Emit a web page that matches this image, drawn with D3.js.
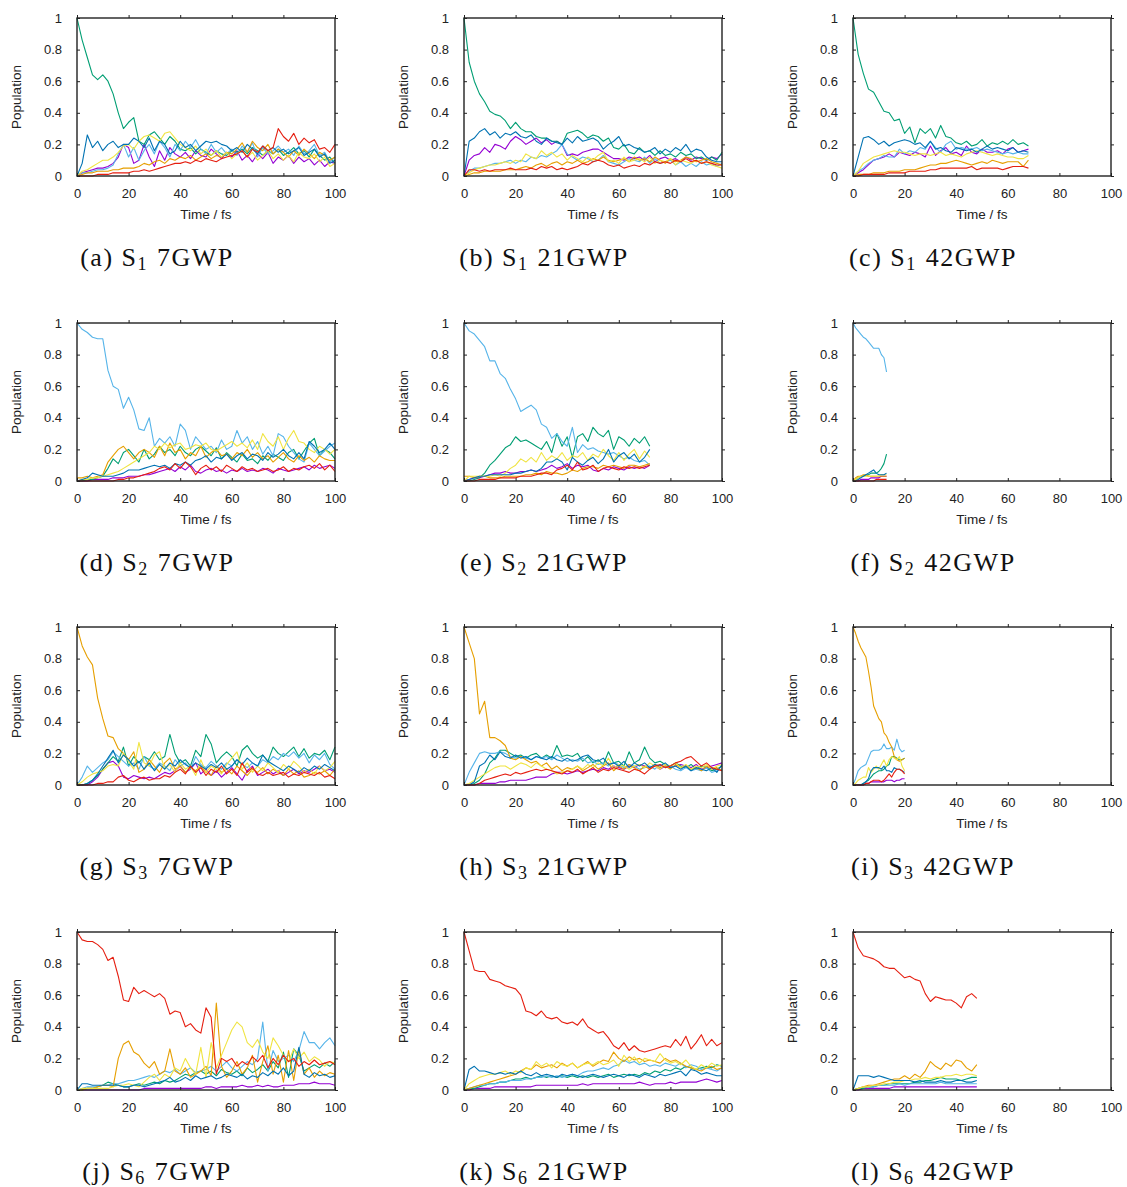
<!DOCTYPE html>
<html>
<head>
<meta charset="utf-8">
<script src="https://cdn.jsdelivr.net/npm/d3@7"></script>
<style>
  body { margin: 0; background: #fff; }
  svg text { font-family: "Liberation Sans", Arial, sans-serif; fill: #222; }
  .caption { font-family: "Liberation Serif", "Times New Roman", serif; font-size: 26px; letter-spacing: 1.5px; fill: #111; }
</style>
</head>
<body>
<svg id="svg_pop" width="1127" height="1187"></svg>
<script>
// populations in percent, one array per electronic state (S0..S6) and panel

// (a) S1 7GWP, every 2 fs
const a_S0 = [0,2,3,4,5,5,6,8,12,20, 18,8,10,20,12,6,16,10,18,14, 12,15,11,16,13,12,17,14,11,15, 12,16,10,13,9,14,11,15,8,12, 10,13,8,12,9,11,7,10,6,9, 8]
const a_S1 = [100,86,75,64,61,64,60,52,40,30, 34,37,22,20,26,28,24,20,25,22, 17,16,18,14,17,15,13,16,14,13, 16,15,17,14,18,16,13,16,14,17, 13,15,18,14,16,12,17,13,10,12, 8]
const a_S2 = [1,2,2,3,4,4,5,7,14,20, 12,18,10,16,20,14,22,18,12,20, 16,22,18,23,17,14,20,15,18,14, 17,13,19,15,21,12,18,14,16,19, 15,17,13,19,14,16,20,13,15,9, 12]
const a_S3 = [0,1,2,2,3,3,3,4,4,5, 5,5,6,8,7,9,10,8,11,10, 12,11,13,10,12,14,11,13,12,15, 14,17,21,15,22,18,16,20,14,17, 15,12,16,13,17,14,11,15,13,10, 12]
const a_S4 = [0,3,4,6,8,10,10,12,15,19, 20,17,22,25,26,24,22,27,28,24, 20,18,16,19,14,17,13,16,12,15, 11,14,16,12,15,10,13,16,11,14, 10,13,9,15,12,11,14,9,12,6, 8]
const a_S5 = [0,8,26,18,22,16,20,22,18,20, 20,24,22,18,24,16,22,20,14,16, 22,18,20,16,19,22,21,22,20,19, 16,18,15,20,17,14,19,16,18,15, 17,14,16,18,13,15,17,12,14,8, 10]
const a_S6 = [0,0,0,0,1,1,1,2,2,2, 2,3,3,4,3,4,5,6,7,8, 8,9,8,10,9,11,10,9,11,12, 13,14,16,12,17,15,19,16,18,30, 25,22,27,20,24,21,23,17,18,15, 20]

// (b) S1 21GWP
const b_S0 = [0,10,13,14,18,15,20,19,17,22, 25,23,20,22,24,21,23,20,22,20, 13,14,13,15,16,17,17,15,13,11, 11,10,12,11,12,10,13,9,11,12, 10,11,9,12,10,12,11,10,12,11, 14]
const b_S1 = [100,72,60,52,47,41,39,38,35,30, 34,30,28,28,25,24,24,22,22,20, 27,28,29,27,24,26,25,22,24,18, 17,20,15,14,18,15,16,13,16,13, 14,12,15,13,14,11,12,10,12,10, 15]
const b_S2 = [0,3,5,5,6,7,8,8,9,10, 8,10,9,12,11,13,12,14,16,20, 14,12,10,12,11,9,10,13,9,8, 7,9,11,10,9,12,8,11,8,9, 10,7,9,6,8,6,9,7,8,6, 8]
const b_S3 = [0,1,2,2,3,3,3,3,4,4, 4,5,6,5,7,8,6,8,9,7, 9,8,10,8,9,11,10,12,10,9, 10,11,9,12,10,11,9,12,10,8, 11,9,10,12,11,9,10,11,9,8, 7]
const b_S4 = [0,2,4,5,6,7,7,8,9,8, 10,9,14,12,11,16,13,15,12,14, 10,13,11,9,12,10,13,15,9,10, 8,12,9,10,11,9,12,8,10,9, 11,7,10,9,8,10,8,9,7,6, 5]
const b_S5 = [0,22,24,28,30,26,28,24,27,26, 28,25,24,26,22,20,24,22,21,20, 24,21,25,22,23,24,22,17,20,22, 25,19,20,18,17,15,16,18,14,17, 15,18,16,20,15,17,16,12,10,9, 9]
const b_S6 = [0,4,4,3,4,3,4,4,4,5, 4,4,4,5,4,6,5,6,4,5, 4,5,6,8,7,9,10,9,7,6, 7,5,6,7,6,8,7,9,8,9, 8,10,9,11,9,10,8,9,8,7, 7]

// (c) S1 42GWP, up to 68 fs
const c_S0 = [0,2,4,7,10,11,12,14,12,15, 14,13,15,14,12,19,13,16,18,14, 15,13,19,15,14,17,15,15,16,14, 17,18,15,16,17]
const c_S1 = [100,77,65,55,53,47,41,40,35,36, 27,31,21,30,27,30,24,32,25,24, 21,20,22,19,20,23,19,21,20,22, 20,23,20,21,19]
const c_S2 = [0,3,5,8,10,11,13,12,12,17, 14,16,15,18,17,22,18,15,20,22, 17,18,17,17,18,16,17,16,15,14, 15,14,15,14,14]
const c_S3 = [0,1,1,1,2,2,2,3,3,3, 4,4,4,5,6,7,7,8,8,9, 10,9,8,7,8,9,8,10,9,8, 9,9,9,6,10]
const c_S4 = [0,3,8,10,12,13,14,15,16,15, 15,14,13,14,14,13,14,15,13,14, 13,12,14,15,16,15,14,13,14,13, 12,12,11,11,13]
const c_S5 = [0,12,24,25,23,20,22,19,21,22, 23,22,20,21,18,22,17,18,16,15, 18,17,16,17,15,17,19,17,18,17, 16,18,15,16,15]
const c_S6 = [0,0,1,1,1,1,1,2,2,2, 2,3,3,3,3,4,4,5,5,5, 5,5,5,6,4,5,5,5,5,4, 5,6,6,6,5]

// (d) S2 7GWP
const d_S0 = [0,0,0,1,1,1,1,2,2,2, 3,3,3,4,4,5,6,7,8,6, 9,7,10,6,5,7,8,6,7,5, 7,6,8,6,7,6,8,7,5,8, 7,6,7,8,9,7,10,8,9,10, 8]
const d_S1 = [0,0,1,1,2,3,8,14,11,18, 20,16,12,20,14,17,22,18,20,16, 22,18,16,20,22,19,16,21,14,18, 15,12,17,13,14,11,16,13,17,15, 13,18,20,14,19,24,27,16,20,18, 14]
const d_S2 = [100,96,94,91,90,90,70,60,58,46, 53,45,33,32,40,22,27,24,28,22, 36,32,20,28,24,20,22,18,26,20, 22,32,24,28,20,25,17,22,16,30, 28,22,18,14,12,24,20,16,19,22, 24]
const d_S3 = [2,2,3,2,3,4,12,16,20,22, 18,14,18,20,18,15,22,16,24,18, 20,14,18,16,22,15,18,20,16,17, 14,18,16,20,15,18,14,16,12,15, 18,14,12,16,13,15,12,16,14,13, 13]
const d_S4 = [0,1,1,2,2,3,4,5,6,8, 10,12,14,16,18,22,20,24,21,23, 24,20,21,23,22,24,20,19,21,23, 25,22,24,21,26,20,30,25,22,28, 20,27,32,25,24,20,18,22,20,17, 20]
const d_S5 = [0,1,2,5,4,3,3,3,4,5, 7,7,7,8,9,10,9,10,8,11, 10,12,10,13,14,16,12,15,14,17, 13,16,18,14,17,16,13,18,15,17, 20,16,14,18,14,25,22,18,20,24, 20]
const d_S6 = [0,0,0,0,0,0,0,0,1,1, 2,2,3,4,5,6,8,9,7,11, 8,12,9,4,8,10,7,9,6,10, 8,6,9,7,8,6,7,8,6,7, 9,6,8,7,9,10,8,11,7,10, 6]

// (e) S2 21GWP, up to 72 fs
const e_S0 = [0,1,2,2,3,4,5,5,6,5, 5,6,6,7,6,7,8,10,8,9, 11,8,10,9,10,7,6,8,7,9, 8,7,9,8,9,8,10]
const e_S1 = [0,0,1,2,5,10,13,17,21,23, 28,25,26,24,22,20,25,18,30,22, 28,15,28,30,25,34,30,28,32,20, 28,26,22,27,24,28,22]
const e_S2 = [100,95,93,89,85,76,76,68,65,58, 52,44,46,48,45,36,34,27,30,25, 22,34,18,23,20,21,19,18,17,18, 16,14,15,13,12,13,10]
const e_S3 = [3,3,2,3,3,2,2,2,3,3, 3,3,4,4,5,4,6,5,5,4, 5,7,6,8,9,9,8,10,9,10, 9,8,10,10,9,10,11]
const e_S4 = [0,3,3,3,3,3,4,3,5,8, 10,14,12,15,12,18,13,16,14,18, 13,16,15,18,13,17,15,20,16,13, 18,13,17,20,14,19,15]
const e_S5 = [0,1,2,3,3,4,4,4,4,4, 5,5,6,7,6,8,12,12,14,12, 7,15,12,10,13,15,11,14,20,12, 16,18,14,17,12,15,20]
const e_S6 = [0,0,0,1,1,1,1,2,2,2, 2,3,3,3,4,5,5,4,7,8, 10,7,12,7,8,10,6,8,9,8, 7,9,8,9,8,9,10]

// (f) S2 42GWP, every 1 fs up to 13 fs
const f_S0 = [0,0,0,1,1,1,1,2,2,2,2,3,3,3]
const f_S1 = [0,1,2,3,3,4,4,5,5,5,6,8,11,17]
const f_S2 = [100,97,95,93,91,90,88,86,84,84,84,80,78,69]
const f_S3 = [0,2,3,3,4,4,3,3,3,3,3,3,3,3]
const f_S4 = [0,1,2,3,3,3,3,3,3,3,3,4,4,4]
const f_S5 = [0,0,1,2,3,4,5,6,7,5,4,4,4,5]
const f_S6 = [0,0,0,0,0,0,0,0,0,1,1,1,1,1]

// (g) S3 7GWP
const g_S0 = [0,0,0,2,5,10,14,15,12,5, 4,6,5,4,5,4,6,8,7,9, 12,8,10,14,7,10,6,9,5,8, 11,7,3,9,12,6,8,10,7,9, 6,8,10,7,9,8,10,12,9,10, 8]
const g_S1 = [0,0,1,3,6,10,14,18,15,24, 12,18,14,18,16,21,16,18,32,20, 14,16,12,22,18,32,26,14,18,21, 18,12,22,25,20,17,19,15,24,20, 18,21,24,18,23,17,20,19,22,16, 24]
const g_S2 = [0,5,12,8,11,14,16,21,18,15, 12,14,10,18,12,10,14,12,9,16, 12,14,10,18,13,11,15,12,10,14, 12,16,13,11,14,12,16,14,18,16, 20,18,21,17,20,14,19,16,20,13, 10]
const g_S3 = [100,88,81,76,55,42,31,30,23,20, 16,21,8,10,16,12,8,14,17,10, 12,8,11,9,12,8,6,12,8,10, 7,12,9,6,10,8,11,7,10,8, 6,10,7,9,5,6,8,7,9,6, 10]
const g_S4 = [0,2,5,7,8,9,12,13,12,20, 15,10,27,14,12,19,21,10,13,8, 14,10,12,6,16,8,12,10,7,13, 17,21,10,14,8,12,9,14,11,8, 13,10,15,12,8,10,7,12,9,11, 15]
const g_S5 = [0,0,1,3,7,12,17,22,14,19, 16,12,15,10,14,9,13,10,14,12, 16,13,11,14,12,10,13,11,14,10, 12,16,13,17,14,12,19,15,13,11, 9,12,10,8,11,9,12,10,13,11, 9]
const g_S6 = [0,0,0,0,1,1,2,2,5,6, 3,2,4,5,3,4,4,6,5,8, 10,7,12,8,11,6,10,8,12,7, 10,6,14,8,11,7,6,8,6,7, 8,5,7,6,8,7,6,8,5,6, 4]

// (h) S3 21GWP
const h_S0 = [0,0,0,1,1,1,1,2,2,3, 3,3,3,4,5,5,5,7,8,8, 7,8,9,8,9,10,9,11,10,12, 11,10,12,11,13,12,11,12,10,12, 11,12,13,12,11,13,10,11,12,13, 14]
const h_S1 = [0,0,1,3,7,14,17,22,22,20, 18,19,17,19,20,17,19,17,25,18, 19,18,20,15,18,14,16,13,21,14, 15,12,21,14,16,24,17,14,15,13, 12,14,12,11,13,10,12,11,9,10, 12]
const h_S2 = [0,8,14,20,21,20,20,21,20,18, 17,18,17,16,18,17,18,16,19,17, 15,16,15,17,14,15,13,14,12,14, 13,11,13,12,10,11,12,10,13,11, 12,10,9,11,9,10,9,11,8,9, 10]
const h_S3 = [100,90,80,45,53,30,30,28,25,17, 16,18,16,14,15,12,14,10,12,9, 11,10,12,9,11,13,10,12,14,9, 12,10,13,11,9,12,10,13,11,12, 10,13,11,12,10,11,9,12,10,11, 9]
const h_S4 = [0,1,3,5,7,9,11,12,12,10, 12,14,13,11,14,12,10,9,7,8, 9,10,12,10,13,11,14,12,17,11, 13,12,10,12,13,11,14,12,10,13, 12,14,11,13,10,12,11,13,10,12, 13]
const h_S5 = [0,0,2,12,14,19,16,21,18,17, 19,17,18,16,18,17,16,18,16,15, 17,15,16,18,19,16,15,17,13,14, 12,15,11,14,12,14,11,13,12,14, 11,12,10,12,9,11,10,9,11,8, 13]
const h_S6 = [0,0,0,1,3,4,5,6,7,6, 8,7,8,9,10,9,10,9,8,7, 9,8,10,7,9,11,8,10,9,11, 10,9,8,10,9,7,10,12,13,11, 12,14,15,17,18,15,12,14,11,10, 9]

// (i) S3 42GWP, every 1 fs up to 20 fs
const i_S0 = [0,0,0,0,0,1,1,2,2,2,2,2,2,3,3,3,2,3,3,4,4]
const i_S1 = [0,0,0,0,1,2,3,5,7,8,9,9,10,12,13,18,18,17,16,16,17]
const i_S2 = [0,4,9,11,12,13,17,21,22,22,22,23,26,23,23,24,22,29,23,21,22]
const i_S3 = [100,96,91,87,84,81,72,62,50,46,42,40,33,31,27,24,18,16,15,16,17]
const i_S4 = [0,1,3,4,5,5,11,8,10,12,10,13,16,12,16,18,17,16,18,12,9]
const i_S5 = [0,0,0,0,1,2,4,9,11,11,11,10,12,9,9,8,11,10,10,9,8]
const i_S6 = [0,0,0,0,0,1,1,2,3,3,3,2,3,5,7,5,8,10,10,9,7]

// (j) S6 7GWP
const j_S0 = [0,0,0,0,0,0,0,0,0,0, 0,0,0,1,1,1,1,1,1,1, 1,1,1,1,1,2,2,1,2,2, 2,2,3,2,2,3,2,3,2,2, 3,3,3,4,4,4,5,4,4,4, 3]
const j_S1 = [0,0,1,1,2,3,5,4,3,2, 2,3,4,3,4,5,4,6,5,6, 8,10,9,11,12,10,12,9,13,11, 10,12,9,14,11,13,16,12,18,14, 24,8,26,22,12,14,16,14,17,15, 18]
const j_S2 = [0,1,2,2,2,3,3,4,4,5, 6,6,7,8,9,8,10,12,11,13, 10,12,14,11,12,13,15,12,15,18, 14,12,15,18,16,20,43,12,25,18, 20,22,18,25,37,30,30,26,30,33, 28]
const j_S3 = [0,0,1,1,2,3,3,2,20,29, 31,24,22,17,14,18,10,12,26,12, 10,14,8,10,12,15,9,55,15,8, 12,18,10,14,22,5,18,28,10,22, 5,25,6,26,10,14,8,12,9,11, 10]
const j_S4 = [0,1,1,1,1,1,1,2,3,3, 4,3,2,5,8,10,6,10,8,14, 12,20,14,10,27,8,30,14,22,30, 38,43,40,30,27,32,24,20,33,28, 22,18,26,20,24,18,21,19,15,18, 17]
const j_S5 = [0,4,4,3,3,3,3,3,3,2, 2,3,3,2,3,4,5,6,8,5, 6,8,6,9,7,8,9,7,8,10, 9,8,10,7,9,8,11,9,12,10, 14,9,12,27,10,8,11,9,10,8, 9]
const j_S6 = [100,95,94,94,92,89,82,84,72,57, 56,65,61,63,61,59,61,58,48,50, 49,40,42,38,36,52,46,10,20,18, 20,15,18,16,21,18,22,14,20,16, 22,18,20,15,18,16,19,16,17,18, 16]

// (k) S6 21GWP
const k_S0 = [0,0,1,1,1,1,2,2,2,2, 2,2,2,2,3,3,3,3,3,3, 3,3,3,4,3,4,4,4,4,4, 4,4,4,4,5,4,3,4,4,4, 5,4,5,5,5,5,6,7,6,5, 6]
const k_S1 = [0,1,1,2,3,4,4,5,5,6, 7,7,8,7,8,9,8,9,8,9, 8,9,8,9,8,9,8,9,10,8, 9,10,9,10,9,11,10,12,11,13, 12,14,13,15,14,13,14,15,14,16, 15]
const k_S2 = [0,1,2,3,3,4,4,5,5,6, 6,6,7,7,8,8,9,8,9,8, 9,10,9,11,12,12,13,14,13,15, 16,19,17,18,16,17,15,16,15,17, 16,15,17,14,16,15,13,14,13,12, 14]
const k_S3 = [0,1,2,3,4,5,6,7,8,9, 10,12,14,13,16,14,15,16,14,17, 15,17,14,16,18,15,17,19,18,24, 20,18,21,19,20,18,19,18,17,20, 18,19,17,15,14,13,12,14,15,13, 14]
const k_S4 = [0,4,6,8,9,10,10,11,12,10, 12,11,14,13,18,15,17,14,18,16, 15,17,14,16,17,16,18,16,17,19, 15,22,18,21,17,20,19,18,23,19, 17,18,16,19,15,13,16,14,17,15, 16]
const k_S5 = [0,13,15,12,12,11,10,11,10,11, 10,12,10,9,11,9,10,9,8,10, 9,10,9,8,9,10,9,8,9,10, 9,8,10,9,8,10,9,8,10,9, 10,11,12,9,13,12,10,11,10,9, 9]
const k_S6 = [100,88,76,75,75,70,69,68,66,65, 64,60,50,49,47,50,46,45,46,43, 42,43,41,45,40,38,36,37,33,28, 26,30,25,28,25,24,25,26,27,28, 27,32,28,34,26,30,35,28,32,28, 30]

// (l) S6 42GWP, up to 48 fs
const l_S0 = [0,0,1,1,1,1,1,1,2,2, 2,2,2,2,2,2,2,2,2,2, 2,2,2,2,2]
const l_S1 = [0,1,1,2,2,3,3,4,4,4, 4,4,5,5,6,6,7,8,7,7, 7,6,7,8,8]
const l_S2 = [0,1,2,2,2,3,3,3,3,4, 3,4,4,4,4,4,4,5,4,4, 4,4,4,4,4]
const l_S3 = [0,1,2,3,3,4,5,6,7,7, 9,7,10,8,12,18,15,13,17,15, 19,18,14,12,16]
const l_S4 = [0,1,2,2,3,3,4,4,5,5, 6,6,7,7,8,7,8,8,9,9, 10,9,10,10,9]
const l_S5 = [0,9,9,9,8,9,8,7,6,6, 6,6,5,6,5,5,5,6,5,5, 6,6,5,5,6]
const l_S6 = [100,90,85,84,83,81,78,77,77,74, 71,72,70,69,61,56,59,58,57,57, 55,52,59,61,58]

const xTicks = [0, 20, 40, 60, 80, 100]
const yTicks = [0, 0.2, 0.4, 0.6, 0.8, 1]
const stateColors = ['#9400D3', '#009E73', '#56B4E9', '#E69F00', '#F0E442', '#0072B2', '#E51E10']

const panelLetters = ['a', 'b', 'c', 'd', 'e', 'f', 'g', 'h', 'i', 'j', 'k', 'l']
const panelStates = ['1', '1', '1', '2', '2', '2', '3', '3', '3', '6', '6', '6']
const panelBasis = ['7GWP', '21GWP', '42GWP', '7GWP', '21GWP', '42GWP', '7GWP', '21GWP', '42GWP', '7GWP', '21GWP', '42GWP']
const panelStep = [2, 2, 2, 2, 2, 1, 2, 2, 1, 2, 2, 2]

const panelData = [
  [a_S0, a_S1, a_S2, a_S3, a_S4, a_S5, a_S6],
  [b_S0, b_S1, b_S2, b_S3, b_S4, b_S5, b_S6],
  [c_S0, c_S1, c_S2, c_S3, c_S4, c_S5, c_S6],
  [d_S0, d_S1, d_S2, d_S3, d_S4, d_S5, d_S6],
  [e_S0, e_S1, e_S2, e_S3, e_S4, e_S5, e_S6],
  [f_S0, f_S1, f_S2, f_S3, f_S4, f_S5, f_S6],
  [g_S0, g_S1, g_S2, g_S3, g_S4, g_S5, g_S6],
  [h_S0, h_S1, h_S2, h_S3, h_S4, h_S5, h_S6],
  [i_S0, i_S1, i_S2, i_S3, i_S4, i_S5, i_S6],
  [j_S0, j_S1, j_S2, j_S3, j_S4, j_S5, j_S6],
  [k_S0, k_S1, k_S2, k_S3, k_S4, k_S5, k_S6],
  [l_S0, l_S1, l_S2, l_S3, l_S4, l_S5, l_S6],
]

const svg = d3.select('#svg_pop')

const colLeft = [77, 464, 853]
const rowTop = [18, 323, 627, 932]
const width = 258
const height = 158

const x = d3.scaleLinear().domain([0, 100]).range([0, width])
const y = d3.scaleLinear().domain([0, 1]).range([height, 0])

const styleAxis = (g) => {
  g.select('.domain').remove()
  g.selectAll('line').attr('stroke', '#222')
  g.selectAll('text').attr('font-size', 13).attr('fill', '#222')
    .attr('font-family', '"Liberation Sans", Arial, sans-serif')
}

panelData.forEach((series, p) => {
  const dt = panelStep[p]
  const g = svg.append('g')
    .attr('transform', `translate(${colLeft[p % 3]}, ${rowTop[Math.floor(p / 3)]})`)

  const line = d3.line()
    .x((d, i) => x(i * dt))
    .y(d => y(d / 100))

  g.append('g')
    .selectAll('path')
    .data(series)
    .enter()
    .append('path')
    .attr('d', line)
    .attr('fill', 'none')
    .attr('stroke', (d, i) => stateColors[i])
    .attr('stroke-width', 1.1)
    .attr('stroke-linejoin', 'round')

  // axes with mirrored ticks
  g.append('g')
    .attr('transform', `translate(0, ${height})`)
    .call(d3.axisBottom(x).tickValues(xTicks).tickSizeInner(-3).tickSizeOuter(0))
    .call(styleAxis)
    .call(a => a.selectAll('text').attr('y', 22).attr('dy', null))

  g.append('g')
    .call(d3.axisLeft(y).tickValues(yTicks).tickSizeInner(-3).tickSizeOuter(0).tickFormat(d3.format('~g')))
    .call(styleAxis)
    .call(a => a.selectAll('text').attr('x', -15))

  g.append('g')
    .call(d3.axisTop(x).tickValues(xTicks).tickSizeInner(3).tickSizeOuter(0).tickFormat(''))
    .call(styleAxis)

  g.append('g')
    .attr('transform', `translate(${width}, 0)`)
    .call(d3.axisRight(y).tickValues(yTicks).tickSizeInner(3).tickSizeOuter(0).tickFormat(''))
    .call(styleAxis)

  g.append('rect')
    .attr('width', width)
    .attr('height', height)
    .attr('fill', 'none')
    .attr('stroke', '#222')
    .attr('stroke-width', 1.4)

  g.append('text')
    .text('Population')
    .attr('transform', `translate(-56, ${height / 2}) rotate(-90)`)
    .attr('text-anchor', 'middle')
    .attr('font-size', 13.5)

  g.append('text')
    .text('Time / fs')
    .attr('x', width / 2)
    .attr('y', height + 43)
    .attr('text-anchor', 'middle')
    .attr('font-size', 13.5)

  const caption = g.append('text')
    .attr('class', 'caption')
    .attr('x', 80)
    .attr('y', height + 90)
    .attr('text-anchor', 'middle')
  caption.append('tspan').text(`(${panelLetters[p]}) S`)
  caption.append('tspan').text(panelStates[p]).attr('font-size', 18).attr('dy', 4)
  caption.append('tspan').text(panelBasis[p]).attr('dy', -4).attr('dx', 9)
})
</script>
</body>
</html>
